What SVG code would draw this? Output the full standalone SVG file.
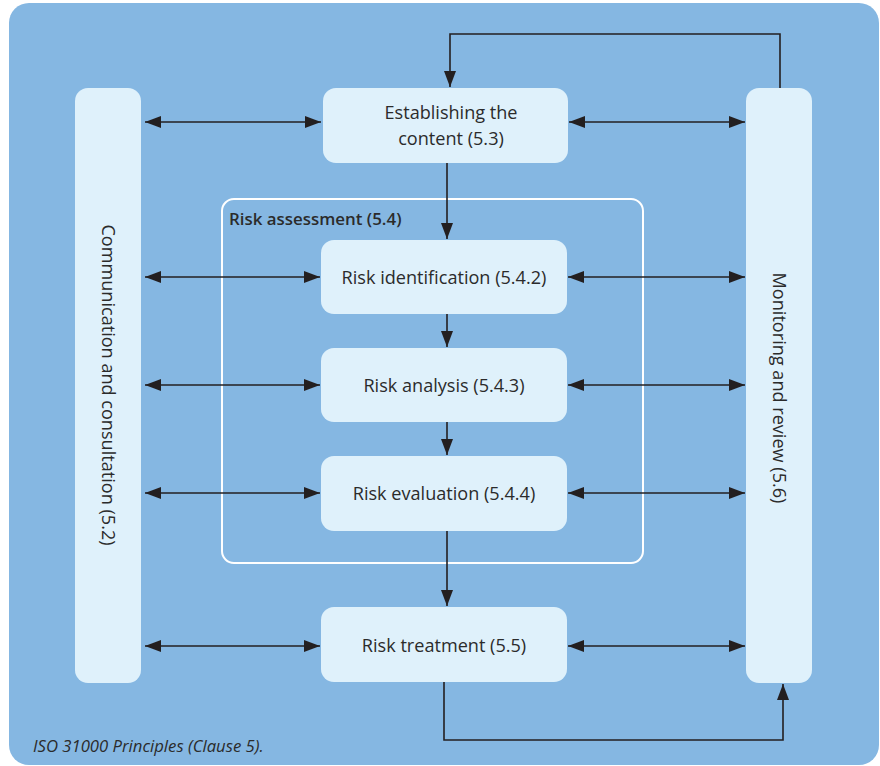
<svg xmlns="http://www.w3.org/2000/svg" width="880" height="766" viewBox="0 0 880 766">
  <style>
    .box { fill: #dff1fb; }
    .lbl { font-family: "Open Sans", "Liberation Sans", sans-serif; font-size: 18.1px; fill: #2b2b2b; text-anchor: middle; }
    .con { stroke: #231f20; stroke-width: 1.6; fill: none; }
  </style>
  <defs>
    <marker id="ah" viewBox="0 0 16 12" refX="16" refY="6" markerWidth="16" markerHeight="12" markerUnits="userSpaceOnUse" orient="auto-start-reverse">
      <path d="M0,0 L16,6 L0,12 Z" fill="#231f20"/>
    </marker>
  </defs>

  <!-- background panel -->
  <rect x="9" y="3" width="870" height="762" rx="20" fill="#85b7e2"/>

  <!-- risk assessment frame -->
  <g id="risk-assessment">
    <rect x="222" y="199" width="421" height="364" rx="12" fill="none" stroke="#ffffff" stroke-width="2"/>
    <text x="229" y="225" font-family="Open Sans, Liberation Sans, sans-serif" font-size="16.9" font-weight="600" fill="#2b2b2b">Risk assessment (5.4)</text>
  </g>

  <g id="communication">
    <rect class="box" x="75" y="88" width="66" height="595" rx="13"/>
    <text class="lbl" transform="translate(108,385) rotate(90)" dy="6">Communication and consultation (5.2)</text>
  </g>

  <g id="monitoring">
    <rect class="box" x="746" y="88" width="66" height="595" rx="13"/>
    <text class="lbl" transform="translate(779,388) rotate(90)" dy="6">Monitoring and review (5.6)</text>
  </g>

  <g id="context">
    <rect class="box" x="323" y="88" width="245" height="75" rx="13"/>
    <text class="lbl" x="451" y="119">Establishing the</text>
    <text class="lbl" x="451" y="145">content (5.3)</text>
  </g>

  <g id="identification">
    <rect class="box" x="321" y="240" width="246" height="74" rx="13"/>
    <text class="lbl" x="444" y="284">Risk identification (5.4.2)</text>
  </g>

  <g id="analysis">
    <rect class="box" x="321" y="348" width="246" height="74" rx="13"/>
    <text class="lbl" x="444" y="392">Risk analysis (5.4.3)</text>
  </g>

  <g id="evaluation">
    <rect class="box" x="321" y="456" width="246" height="75" rx="13"/>
    <text class="lbl" x="444" y="500">Risk evaluation (5.4.4)</text>
  </g>

  <g id="treatment">
    <rect class="box" x="321" y="607" width="246" height="75" rx="13"/>
    <text class="lbl" x="444" y="652">Risk treatment (5.5)</text>
  </g>

  <g id="connectors">
    <!-- two-way links with communication -->
    <line class="con" x1="145" y1="122" x2="321" y2="122" marker-start="url(#ah)" marker-end="url(#ah)"/>
    <line class="con" x1="145" y1="277" x2="320" y2="277" marker-start="url(#ah)" marker-end="url(#ah)"/>
    <line class="con" x1="145" y1="385" x2="320" y2="385" marker-start="url(#ah)" marker-end="url(#ah)"/>
    <line class="con" x1="145" y1="493" x2="320" y2="493" marker-start="url(#ah)" marker-end="url(#ah)"/>
    <line class="con" x1="145" y1="646" x2="320" y2="646" marker-start="url(#ah)" marker-end="url(#ah)"/>
    <!-- two-way links with monitoring -->
    <line class="con" x1="569" y1="122" x2="745" y2="122" marker-start="url(#ah)" marker-end="url(#ah)"/>
    <line class="con" x1="568" y1="277" x2="745" y2="277" marker-start="url(#ah)" marker-end="url(#ah)"/>
    <line class="con" x1="568" y1="385" x2="745" y2="385" marker-start="url(#ah)" marker-end="url(#ah)"/>
    <line class="con" x1="568" y1="493" x2="745" y2="493" marker-start="url(#ah)" marker-end="url(#ah)"/>
    <line class="con" x1="568" y1="646" x2="745" y2="646" marker-start="url(#ah)" marker-end="url(#ah)"/>
    <!-- main flow -->
    <line class="con" x1="447" y1="163" x2="447" y2="239" marker-end="url(#ah)"/>
    <line class="con" x1="447" y1="314" x2="447" y2="347" marker-end="url(#ah)"/>
    <line class="con" x1="447" y1="422" x2="447" y2="455" marker-end="url(#ah)"/>
    <line class="con" x1="447" y1="531" x2="447" y2="606" marker-end="url(#ah)"/>
    <!-- feedback loops -->
    <polyline class="con" points="780,88 780,34 450,34 450,87" marker-end="url(#ah)"/>
    <polyline class="con" points="444,682 444,740 783,740 783,684" marker-end="url(#ah)"/>
  </g>

  <text x="33" y="752" font-family="Open Sans, Liberation Sans, sans-serif" font-size="16.7" font-style="italic" fill="#2b2b2b">ISO 31000 Principles (Clause 5).</text>
</svg>
